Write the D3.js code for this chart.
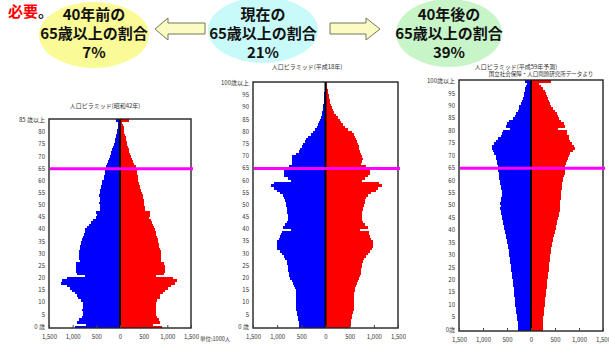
<!DOCTYPE html>
<html>
<head>
<meta charset="utf-8">
<script src="https://cdn.jsdelivr.net/npm/d3@7"></script>
<style>
body { margin: 0; background: #fff; }
svg { display: block; }
text { font-family: "Noto Sans CJK JP", "Noto Sans", sans-serif; }
</style>
</head>
<body>
<script>
// population by single year of age, thousands
var ages1967 = d3.range(0, 86)
var male1967 = [950,720,900,860,810,790,790,795,790,790, 790,830,880,910,960,1020,1060,1130,1240,1220,
  1130,740,910,920,920,930,920,850,860,870, 860,860,850,840,830,820,810,790,770,750,
  740,700,660,610,560,500,480,500,420,430, 430,440,430,430,440,430,420,410,400,390,
  380,340,330,320,320,310,290,270,250,240, 220,200,180,160,140,125,110,100,90,80,
  60,55,50,45,40,85]
var female1967 = [880,700,850,830,780,765,765,770,765,760, 760,790,840,850,900,960,1020,1080,1170,1200,
  1120,760,940,950,950,950,930,860,860,870, 860,860,850,830,820,810,800,780,770,750,
  740,720,700,670,650,620,640,640,530,520, 510,510,500,490,480,460,440,430,420,400,
  390,380,370,360,355,350,330,300,270,250, 230,220,200,190,170,155,140,130,120,110,
  95,85,75,60,50,195]

var ages2006 = d3.range(0, 101)
var male2006 = [545,550,555,565,575,590,600,605,610,612, 614,614,614,614,614,620,635,650,670,695,
  725,750,765,770,772,775,790,800,830,855, 895,945,995,1005,1008,995,965,940,920,910,
  720,880,845,800,780,775,780,800,790,800, 808,815,830,850,875,945,1000,1065,1130,1065,
  705,785,855,855,855,790,760,685,685,690, 690,620,555,520,490,460,430,400,360,300,
  255,220,185,160,140,117,95,80,70,60, 55,45,40,35,30,28,22,18,14,10, 15]
var female2006 = [505,518,525,535,545,552,570,580,590,592, 593,593,593,593,593,600,607,625,642,665,
  690,710,725,735,740,745,755,770,800,830, 870,918,965,985,988,975,940,915,900,895,
  710,870,815,780,760,745,750,745,770,785, 800,810,820,840,880,950,1035,1090,1160,1105,
  745,815,885,915,915,870,830,730,760,770, 760,740,710,700,690,676,660,640,607,580,
  540,470,400,360,330,297,260,225,185,160, 140,120,100,88,78,70,55,45,35,28, 40]

var ages2047 = d3.range(0, 101)
var male2047 = [265,270,275,280,287,293,300,305,312,320, 328,332,336,340,345,350,356,362,370,377,
  384,390,398,405,412,419,425,430,435,445, 455,462,468,475,482,490,502,512,523,535,
  545,558,572,580,593,607,614,628,635,642, 635,648,628,620,614,614,614,620,628,640,
  650,663,670,677,680,684,691,700,712,722, 733,768,789,803,803,768,719,680,628,610,
  590,430,520,500,455,384,335,305,280,255, 240,215,195,175,155,140,125,115,100,90, 115]
var female2047 = [244,247,250,253,256,258,265,270,275,280, 286,290,295,300,307,314,320,326,332,337,
  342,348,353,358,365,370,378,385,392,398, 405,412,419,426,433,440,454,463,475,490,
  502,512,523,537,550,572,575,579,595,607, 614,610,614,620,621,628,635,640,649,655,
  663,677,685,698,698,698,705,720,747,765, 782,817,873,907,886,859,817,800,789,760,
  740,560,700,680,630,580,558,535,510,465, 419,400,380,363,340,314,290,245,210,175, 419]

var xTicks = [-1500, -1000, -500, 0, 500, 1000, 1500]

var w = 609
var h = 344

var svg = d3.select("body").append("svg")
  .attr("width", w)
  .attr("height", h)

var fmt = d3.format(",")

function drawPyramid(opt) {
  var x = d3.scaleLinear().domain([-1500, 1500]).range([opt.left, opt.right])
  var y = d3.scaleBand().domain(opt.ages).range([opt.bottom, opt.top]).padding(0)
  var g = svg.append("g")

  // bars
  g.append("g").attr("shape-rendering", "crispEdges").selectAll("rect.m")
    .data(opt.ages).enter().append("rect")
    .attr("x", function(a, i) { return x(-opt.male[i]) })
    .attr("width", function(a, i) { return x(0) - x(-opt.male[i]) })
    .attr("y", function(a) { return y(a) })
    .attr("height", y.bandwidth() + 0.4)
    .attr("fill", "#0000ff")
  g.append("g").attr("shape-rendering", "crispEdges").selectAll("rect.f")
    .data(opt.ages).enter().append("rect")
    .attr("x", x(0))
    .attr("width", function(a, i) { return x(opt.female[i]) - x(0) })
    .attr("y", function(a) { return y(a) })
    .attr("height", y.bandwidth() + 0.4)
    .attr("fill", "#ff0000")

  g.append("line")
    .attr("x1", x(0)).attr("x2", x(0))
    .attr("y1", opt.top).attr("y2", opt.bottom)
    .attr("stroke", "#000").attr("stroke-width", 2)

  g.append("rect")
    .attr("x", opt.left).attr("y", opt.top)
    .attr("width", opt.right - opt.left).attr("height", opt.bottom - opt.top)
    .attr("fill", "none").attr("stroke", "#222").attr("stroke-width", 1.4)

  // axes
  var last = opt.ages[opt.ages.length - 1]
  var yAxis = d3.axisLeft(y)
    .tickValues(opt.ages.filter(function(a) { return a % 5 == 0 }))
    .tickSize(0).tickPadding(4)
    .tickFormat(function(a) { return a == 0 ? opt.zeroLabel : (a == last ? opt.topLabel : a) })
  var ya = g.append("g").attr("transform", "translate(" + opt.left + ",0)").call(yAxis)
  ya.select(".domain").remove()
  ya.selectAll("text").attr("font-size", 6).attr("fill", "#333").attr("font-family", "'Noto Sans CJK JP'")

  var xAxis = d3.axisBottom(x).tickValues(xTicks).tickSize(-3).tickPadding(7)
    .tickFormat(function(d) { return fmt(Math.abs(d)) })
  var xa = g.append("g").attr("transform", "translate(0," + opt.bottom + ")").call(xAxis)
  xa.select(".domain").remove()
  xa.selectAll("line").attr("stroke", "#444")
  xa.selectAll("text").attr("font-size", 6).attr("fill", "#333").attr("font-family", "'Noto Sans CJK JP'")

  // 65 line
  g.append("line")
    .attr("x1", opt.left + 1).attr("x2", opt.right + 2)
    .attr("y1", y(65) + y.bandwidth() / 2).attr("y2", y(65) + y.bandwidth() / 2)
    .attr("stroke", "#ff00ff").attr("stroke-width", 3)

  g.append("text")
    .attr("x", opt.titleX).attr("y", opt.titleY)
    .attr("text-anchor", "middle").attr("font-size", 6).attr("fill", "#333")
    .text(opt.title)
}

drawPyramid({ ages: ages1967, male: male1967, female: female1967,
  left: 49, right: 191, top: 119, bottom: 328,
  zeroLabel: "0 歳", topLabel: "85 歳以上",
  title: "人口ピラミッド(昭和42年)", titleX: 105, titleY: 108 })

drawPyramid({ ages: ages2006, male: male2006, female: female2006,
  left: 253, right: 398, top: 82, bottom: 328,
  zeroLabel: "0 歳", topLabel: "100歳以上",
  title: "人口ピラミッド(平成18年)", titleX: 307, titleY: 69 })

drawPyramid({ ages: ages2047, male: male2047, female: female2047,
  left: 459, right: 603, top: 80, bottom: 331,
  zeroLabel: "0歳", topLabel: "100歳以上",
  title: "人口ピラミッド(平成59年予測)", titleX: 516, titleY: 69 })

svg.append("text").attr("x", 541).attr("y", 76).attr("text-anchor", "middle")
  .attr("font-size", 5.5).attr("fill", "#333").text("国立社会保障・人口問題研究所データより")

svg.append("text").attr("x", 200).attr("y", 341)
  .attr("font-size", 5.5).attr("fill", "#333").text("単位:1000人")

// top banner: ellipses and arrows
var bubbles = [
  { cx: 94, cy: 35, rx: 55, ry: 33, fill: "#fafa96", lines: ["40年前の", "65歳以上の割合", "7%"] },
  { cx: 263, cy: 30, rx: 55, ry: 33, fill: "#c8fafa", lines: ["現在の", "65歳以上の割合", "21%"] },
  { cx: 449, cy: 33, rx: 53, ry: 34, fill: "#c8f5c8", lines: ["40年後の", "65歳以上の割合", "39%"] }
]
bubbles.forEach(function(b) {
  svg.append("ellipse").attr("cx", b.cx).attr("cy", b.cy).attr("rx", b.rx).attr("ry", b.ry)
    .attr("fill", b.fill)
  b.lines.forEach(function(t, i) {
    svg.append("text").attr("x", b.cx).attr("y", 20 + i * 19)
      .attr("text-anchor", "middle").attr("font-size", 15).attr("font-weight", 700)
      .attr("fill", "#111").text(t)
  })
})

var arrowL = "M155,29 L168,18 L168,23 L205,23 L205,34 L168,34 L168,40 Z"
var arrowR = "M380,29 L366,18 L366,23 L330,23 L330,34 L366,34 L366,40 Z"
svg.append("path").attr("d", arrowL).attr("fill", "#fbfbc4").attr("stroke", "#77775a").attr("stroke-width", 1)
svg.append("path").attr("d", arrowR).attr("fill", "#fbfbc4").attr("stroke", "#77775a").attr("stroke-width", 1)

var must = svg.append("text").attr("x", 8).attr("y", 17).attr("font-size", 15).attr("font-weight", 700)
must.append("tspan").attr("fill", "#ff0000").text("必要")
must.append("tspan").attr("fill", "#222").text("。")
</script>
</body>
</html>
